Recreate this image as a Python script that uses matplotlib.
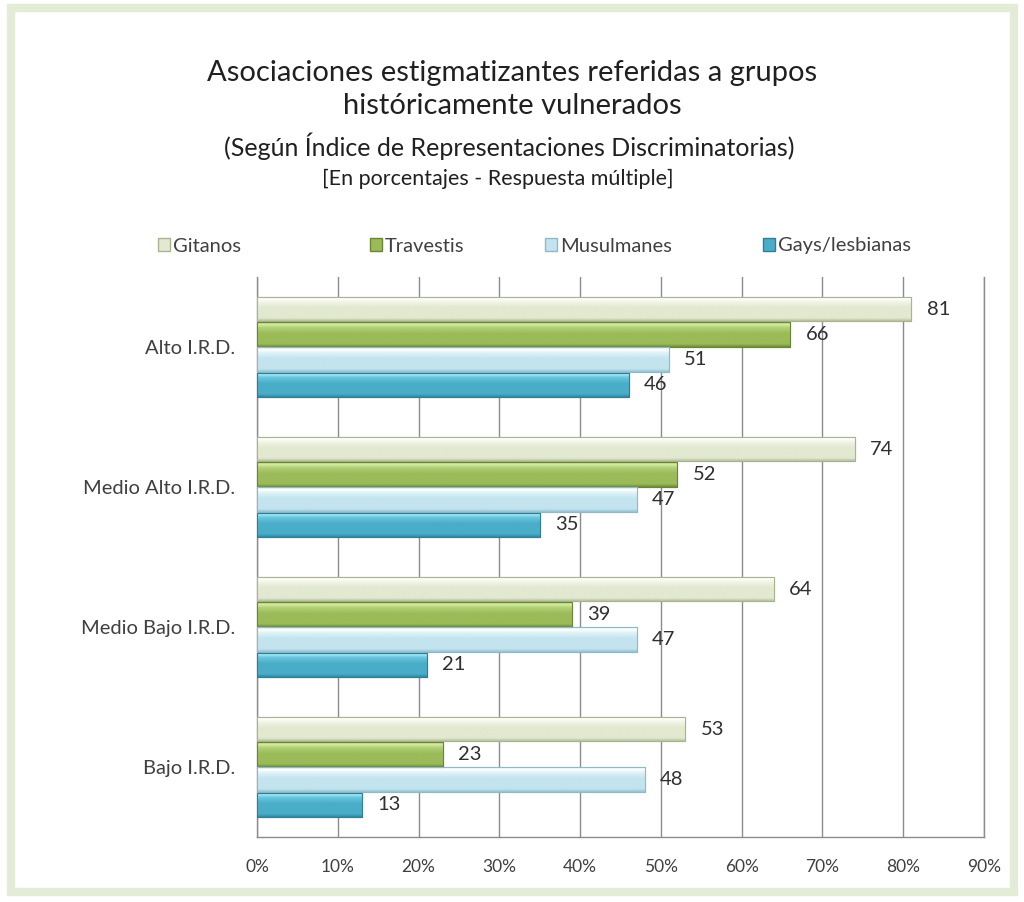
import matplotlib
matplotlib.use("Agg")
import matplotlib.pyplot as plt
import numpy as np
from matplotlib.colors import LinearSegmentedColormap
from matplotlib.patches import Rectangle, Patch

plt.rcParams['font.family'] = ['Lato', 'DejaVu Sans']

categories = ["Alto I.R.D.", "Medio Alto I.R.D.", "Medio Bajo I.R.D.", "Bajo I.R.D."]
series_names = ["Gitanos", "Travestis", "Musulmanes", "Gays/lesbianas"]
gitanos = [81, 74, 64, 53]
travestis = [66, 52, 39, 23]
musulmanes = [51, 47, 47, 48]
gays = [46, 35, 21, 13]
xticks = [0, 10, 20, 30, 40, 50, 60, 70, 80, 90]

series_values = [gitanos, travestis, musulmanes, gays]
# (dark, base, light, highlight) colours per series
palettes = [
    ("#b9c3a2", "#e2e9d0", "#f3f7ea", "#ffffff"),
    ("#6f8c3a", "#9bbb59", "#b5d27a", "#d4eca0"),
    ("#93c3d2", "#c3e4ee", "#e2f4f8", "#ffffff"),
    ("#2f8aa3", "#4aadc8", "#6cc8e0", "#9ee8f6"),
]
edge_colors = ["#a9b38f", "#6a8535", "#8fb9c6", "#2e7f96"]

fig = plt.figure(figsize=(10.24, 9.02), dpi=100)
ax = fig.add_axes([257/1024, 1-837/902, (984-257)/1024, (837-277)/902])

n_cat = len(categories)
centers = np.arange(n_cat)[::-1]
bar_h = 0.175
offsets = [0.27, 0.09, -0.09, -0.27]

ax.set_xlim(0, 90)
ax.set_ylim(-0.5, n_cat - 0.5)

for s, vals in enumerate(series_values):
    dark, base, light, hi = palettes[s]
    cmap = LinearSegmentedColormap.from_list(
        f"c{s}", [(0.0, dark), (0.12, base), (0.55, base), (0.8, light), (0.9, hi), (1.0, light)])
    grad = np.linspace(0, 1, 64).reshape(-1, 1)
    for i, v in enumerate(vals):
        y = centers[i] + offsets[s]
        rect = ax.barh(y, v, height=bar_h, color=base, edgecolor=edge_colors[s],
                       linewidth=0.8, zorder=3)[0]
        im = ax.imshow(grad, cmap=cmap, aspect='auto', origin='lower',
                       extent=[0, v, y - bar_h/2, y + bar_h/2], zorder=3.5,
                       interpolation='bilinear')
        im.set_clip_path(rect)
        ax.add_patch(Rectangle((0, y - bar_h/2), v, bar_h, fill=False,
                               edgecolor=edge_colors[s], linewidth=0.8, zorder=4))
        ax.text(v + 1.9, y, f"{v}", va='center', ha='left', fontsize=14.5,
                color='#303030', zorder=5)

ax.set_xticks(xticks)
ax.set_xticklabels([f"{t}%" for t in xticks], fontsize=12.5, color='#404040')
ax.set_yticks(centers)
ax.set_yticklabels(categories, fontsize=14.5, color='#404040')
ax.tick_params(axis='x', length=0, pad=16)
ax.tick_params(axis='y', length=0, pad=16)
ax.xaxis.grid(True, color='#8c8c8c', linewidth=1.0, zorder=0)
ax.set_axisbelow(True)
for side in ['left', 'bottom', 'right']:
    ax.spines[side].set_color('#8c8c8c')
    ax.spines[side].set_linewidth(1.0)
ax.spines['top'].set_visible(False)

# titles
fig.text(0.5, 1-73/902, "Asociaciones estigmatizantes referidas a grupos",
         ha='center', va='center', fontsize=21, color='#202020')
fig.text(0.5, 1-106/902, "históricamente vulnerados",
         ha='center', va='center', fontsize=21, color='#202020')
fig.text(509/1024, 1-146/902, "(Según Índice de Representaciones Discriminatorias)",
         ha='center', va='center', fontsize=18, color='#202020')
fig.text(498/1024, 1-179/902, "[En porcentajes - Respuesta múltiple]",
         ha='center', va='center', fontsize=15.5, color='#202020')

# legend entries placed individually
legend_x = [158, 370, 545, 763]
for s in range(4):
    h = Patch(facecolor=palettes[s][1], edgecolor=edge_colors[s])
    lg = fig.legend([h], [series_names[s]], loc='center left',
                    bbox_to_anchor=(legend_x[s]/1024, 1-246/902),
                    frameon=False, fontsize=14.5, handlelength=0.6, handleheight=0.6,
                    handletextpad=0.15, borderpad=0, borderaxespad=0,
                    labelcolor='#404040')

# outer frame
fig.patches.append(Rectangle((11/1024, 10/902), (1014-11)/1024, (894-10)/902,
                             transform=fig.transFigure, fill=False,
                             edgecolor='#e2ecd6', linewidth=6))

fig.savefig("out.png", dpi=100, facecolor='white')
